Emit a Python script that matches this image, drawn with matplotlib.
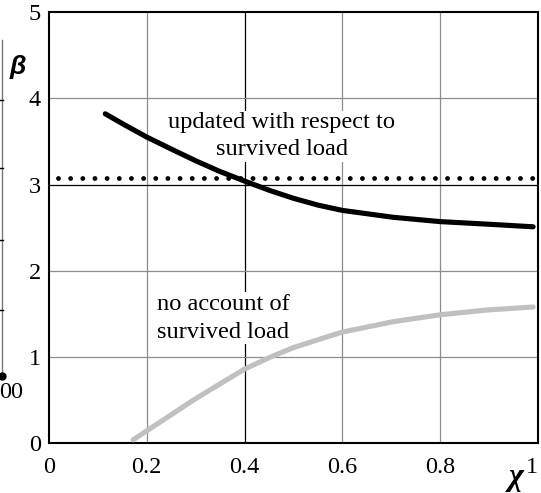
import matplotlib
matplotlib.use('Agg')
import matplotlib.pyplot as plt
from matplotlib.lines import Line2D
from matplotlib import font_manager as fm

# ---- data ----
x_updated = [0.115, 0.155, 0.2, 0.254, 0.302, 0.35, 0.4, 0.452, 0.5, 0.551,
             0.6, 0.704, 0.8, 0.898, 0.99]
beta_updated = [3.82, 3.69, 3.55, 3.40, 3.27, 3.15, 3.04, 2.93, 2.84, 2.76,
                2.70, 2.62, 2.57, 2.54, 2.51]
x_noacc = [0.172, 0.2, 0.247, 0.295, 0.35, 0.4, 0.449, 0.5, 0.6, 0.704,
           0.8, 0.895, 0.99]
beta_noacc = [0.04, 0.145, 0.32, 0.50, 0.69, 0.86, 0.99, 1.11, 1.29, 1.41,
              1.49, 1.545, 1.58]
x_target = [0.018, 0.99]
beta_target = [3.08, 3.08]
x_ticks = [0, 0.2, 0.4, 0.6, 0.8, 1]
x_ticklabels = ['0', '0.2', '0.4', '0.6', '0.8', '1']
y_ticks = [0, 1, 2, 3, 4, 5]
y_ticklabels = ['0', '1', '2', '3', '4', '5']

names = {f.name for f in fm.fontManager.ttflist}
def pick(cands, default):
    for c in cands:
        if c in names:
            return c
    return default
serif = pick(['Liberation Serif', 'Tinos', 'Times New Roman', 'DejaVu Serif'], 'serif')
sans = pick(['Liberation Sans', 'Arimo', 'Arial', 'DejaVu Sans'], 'sans-serif')

W, H = 541, 493
fig = plt.figure(figsize=(W / 100, H / 100), dpi=100)

ax = fig.add_axes([49 / W, 1 - 443.3 / H, (538 - 49) / W, (443.3 - 12) / H])
ax.set_xlim(0, 1)
ax.set_ylim(0, 5)
ax.set_xticks(x_ticks)
ax.set_xticklabels(x_ticklabels, fontfamily=serif, fontsize=17.5)
ax.set_yticks(y_ticks)
ax.set_yticklabels(y_ticklabels, fontfamily=serif, fontsize=17.5)
ax.tick_params(length=0)
ax.tick_params(axis='x', pad=10)
ax.tick_params(axis='y', pad=6)
ax.get_xticklabels()[-1].set_horizontalalignment('right')
for s in ax.spines.values():
    s.set_linewidth(1.5)
    s.set_color('black')

# grid lines
for xv in x_ticks[1:-1]:
    c = 'black' if abs(xv - 0.4) < 1e-9 else '#8c8c8c'
    ax.axvline(xv, color=c, lw=0.9, zorder=1)
for yv in y_ticks[1:-1]:
    c = 'black' if yv == 3 else '#8c8c8c'
    ax.axhline(yv, color=c, lw=0.9, zorder=1)

ax.plot(x_noacc, beta_noacc, color='#c0c0c0', lw=3.7, solid_capstyle='round', zorder=3)
ax.plot(x_updated, beta_updated, color='black', lw=3.7, solid_capstyle='round', zorder=3)
ax.plot(x_target, beta_target, color='black', lw=3.5,
        linestyle=(0, (0.001, 2.5)), dash_capstyle='round', zorder=3)

bb = dict(facecolor='white', edgecolor='none', pad=1.0)
ax.text(0.476, 3.56, 'updated with respect to\nsurvived load', ha='center', va='center',
        fontfamily=serif, fontsize=17.6, linespacing=1.38, bbox=bb, zorder=2)
ax.text(0.356, 1.45, 'no account of\nsurvived load', ha='center', va='center',
        fontfamily=serif, fontsize=17.6, linespacing=1.42, bbox=bb, zorder=2)

# axis symbols
fig.text(18 / W, 1 - 67 / H, 'β', ha='center', va='center', fontsize=19,
         fontfamily=sans, fontweight='bold', fontstyle='italic')
fig.text(516 / W, 1 - 477 / H, 'χ', ha='center', va='center', fontsize=23,
         fontfamily=serif, fontstyle='italic', fontweight='bold')

# remnant of the neighbouring chart at the left edge
fig.add_artist(Line2D([2 / W, 2 / W], [1 - 40 / H, 1 - 376 / H], color='#777777', lw=1.0))
for ty in [100, 168, 240, 310]:
    fig.add_artist(Line2D([0, 3 / W], [1 - ty / H, 1 - ty / H], color='black', lw=1.0))
fig.add_artist(Line2D([2 / W], [1 - 376 / H], marker='o', markersize=5,
                      color='black', lw=0))
fig.text(-1 / W, 1 - 393 / H, '00', ha='left', va='center', fontfamily=serif, fontsize=17.5)

fig.savefig('out.png', dpi=100)
